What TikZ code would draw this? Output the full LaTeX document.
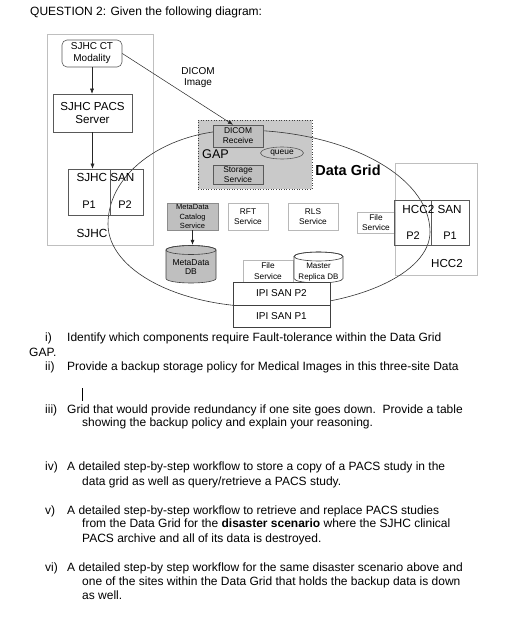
\documentclass[tikz,border=0pt]{standalone}
\usepackage{fontspec}
\setmainfont{Liberation Sans}
\usetikzlibrary{arrows.meta,calc,shapes.geometric}
\definecolor{sitegray}{gray}{0.75}
\definecolor{lightgray2}{gray}{0.72}
\definecolor{boxgray}{gray}{0.35}
\definecolor{darkgray2}{gray}{0.25}
\definecolor{gapfill}{gray}{0.79}
\definecolor{boxfill}{gray}{0.75}
\newcommand\myfs[2]{\fontsize{#1}{#2}\selectfont}
\tikzset{
  site/.style={draw=sitegray, line width=0.6pt, inner sep=0pt},
  darkbox/.style={draw=boxgray, line width=0.6pt, fill=white, inner sep=0pt, align=center},
  lightbox/.style={draw=lightgray2, line width=0.6pt, fill=white, inner sep=0pt, align=center},
  graybox/.style={draw=boxgray, line width=0.6pt, fill=boxfill, inner sep=0pt, align=center},
  sanbox/.style={draw=boxgray, line width=0.6pt, inner sep=0pt},
  gapbox/.style={draw=darkgray2, dotted, line width=0.6pt, fill=gapfill, inner sep=0pt},
  lbl/.style={inner sep=0pt, align=center},
  qt/.style={anchor=base west, inner sep=0pt, font=\myfs{12}{14}},
  arr/.style={-{Latex[length=5pt,width=4pt]}, line width=0.5pt, draw=black!85},
  gridline/.style={draw=black!80, line width=0.6pt},
}
\begin{document}
\begin{tikzpicture}[x=1pt,y=-1pt]
\useasboundingbox (0,0) rectangle (531,620);
\fill[white] (0,0) rectangle (531,620);

% title
\node[qt] (title) at (30,16) {QUESTION 2: Given the following diagram:};

% site boxes
\node[site, minimum width=106pt, minimum height=211pt] (sjhcsite) at (100,139.5) {};
\node[site, minimum width=82pt, minimum height=112pt] (hccsite) at (436,219) {};

% GAP box
\node[gapbox, minimum width=114pt, minimum height=69pt] (gap) at (255,154.5) {};

% Data Grid outline
\draw[gridline] (240,130) .. controls (345,130) and (430,176) .. (430,232)
  .. controls (430,273.4) and (356,307) .. (265,307)
  .. controls (178,307) and (108,270) .. (108,224)
  .. controls (108,172) and (167,130) .. cycle;

% SJHC site
\node[darkbox, rounded corners=5pt, minimum width=60pt, minimum height=27pt, font=\myfs{10}{12}] (ct) at (92,53.5) {SJHC CT\\Modality};
\node[darkbox, minimum width=79pt, minimum height=38pt, font=\myfs{11.6}{13.5}] (pacs) at (92.5,113) {SJHC PACS\\Server};
\node[sanbox, minimum width=42pt, minimum height=46pt] (sjhcp1) at (89,192) {};
\node[sanbox, minimum width=33pt, minimum height=46pt] (sjhcp2) at (126.5,192) {};
\node[lbl, font=\myfs{11.7}{14}] (sjhcsanlbl) at (105.5,177.5) {SJHC SAN};
\node[lbl, font=\myfs{11}{13}] (sjhcp1lbl) at (89,205) {P1};
\node[lbl, font=\myfs{11}{13}] (sjhcp2lbl) at (125,205) {P2};
\node[lbl, font=\myfs{11.8}{14}] (sjhclbl) at (92,233) {SJHC};

\node[lbl, font=\myfs{10}{11.5}] (dicomimg) at (198,77.5) {DICOM\\Image};

% GAP contents
\node[graybox, minimum width=50pt, minimum height=22pt, font=\myfs{8.4}{10}] (dicomrx) at (238,136) {DICOM\\Receive};
\node[lbl, anchor=west, font=\myfs{12.6}{14}] (gaplbl) at (202,154.5) {GAP};
\node[ellipse, draw=boxgray, line width=0.6pt, inner sep=0pt, minimum width=43pt, minimum height=12pt, font=\myfs{8.4}{10}] (queue) at (282,153) {queue};
\node[graybox, minimum width=50pt, minimum height=19pt, font=\myfs{8.4}{9.8}] (storage) at (238,174.5) {Storage\\Service};

\node[lbl, font=\bfseries\myfs{14.5}{16}] (dglbl) at (348,170) {Data Grid};

% services
\node[graybox, draw=black!45, minimum width=51pt, minimum height=27pt, font=\myfs{7.5}{9.2}] (mdc) at (192.5,216.5) {MetaData\\Catalog\\Service};
\node[lightbox, minimum width=40pt, minimum height=27pt, font=\myfs{8.3}{10}] (rft) at (248,216.5) {RFT\\Service};
\node[lightbox, minimum width=50pt, minimum height=27pt, font=\myfs{8.3}{10}] (rls) at (313,216.5) {RLS\\Service};
\node[lightbox, minimum width=38pt, minimum height=21pt, font=\myfs{8.3}{9.5}] (fsright) at (376,222.5) {File\\Service};
\node[lightbox, minimum width=50pt, minimum height=22pt, font=\myfs{8.3}{10.5}] (fsmid) at (268,271) {File\\Service};

% MetaData DB cylinder
\node[inner sep=0pt, minimum width=50pt, minimum height=38pt] (mddb) at (191,264) {};
\draw[fill=boxfill, draw=darkgray2, line width=0.6pt] (166,250) -- (166,278.5)
  arc[start angle=180, end angle=360, x radius=25pt, y radius=4.5pt] -- (216,250)
  arc[start angle=0, end angle=180, x radius=25pt, y radius=4.5pt] -- cycle;
\draw[draw=darkgray2, line width=0.6pt] (191,250) ellipse [x radius=25pt, y radius=4.5pt];
\node[lbl, font=\myfs{8.5}{9.5}] (mddbtxt) at (191,267) {MetaData\\DB};

% Master Replica DB cylinder
\node[inner sep=0pt, minimum width=49pt, minimum height=31pt] (mrdb) at (318.5,267.5) {};
\draw[fill=white, draw=darkgray2, line width=0.6pt] (294,256.5) -- (294,278.5)
  arc[start angle=180, end angle=360, x radius=24.5pt, y radius=4.5pt] -- (343,256.5)
  arc[start angle=0, end angle=180, x radius=24.5pt, y radius=4.5pt] -- cycle;
\draw[draw=darkgray2, line width=0.6pt] (318.5,256.5) ellipse [x radius=24.5pt, y radius=4.5pt];
\node[lbl, font=\myfs{8}{10.5}] (mrdbtxt) at (318.5,272) {Master\\Replica DB};

% IPI SAN
\node[darkbox, draw=darkgray2, minimum width=97pt, minimum height=23pt, font=\myfs{10}{12}] (ipip2) at (281.5,293.5) {IPI SAN P2};
\node[darkbox, draw=darkgray2, minimum width=97pt, minimum height=22pt, font=\myfs{10}{12}] (ipip1) at (281.5,316) {IPI SAN P1};

% HCC2 site
\node[sanbox, minimum width=37pt, minimum height=45pt] (hccp2) at (412.5,222.5) {};
\node[sanbox, minimum width=38pt, minimum height=45pt] (hccp1) at (450,222.5) {};
\node[lbl, font=\myfs{11.7}{14}] (hccsanlbl) at (432,209) {HCC2 SAN};
\node[lbl, font=\myfs{11}{13}] (hccp2lbl) at (413,236) {P2};
\node[lbl, font=\myfs{11}{13}] (hccp1lbl) at (450,236) {P1};
\node[lbl, font=\myfs{11.6}{14}] (hcclbl) at (447,264) {HCC2};

% connectors
\draw[arr] (ct.south) -- (ct.south |- pacs.north);
\draw[arr] (pacs.south) -- (pacs.south |- sjhcp1.north);
\draw[arr] (ct.east) -- ($(dicomrx.north)+(-5,0)$);
\draw[arr] (mdc.south) -- (mdc.south |- mddb.north);

% questions
\node[qt] (q1n) at (45,341) {i)};
\node[qt] (q1a) at (67,341) {Identify which components require Fault-tolerance within the Data Grid};
\node[qt] (q1b) at (29,356) {GAP.};
\node[qt] (q2n) at (45,370) {ii)};
\node[qt] (q2a) at (67,370) {Provide a backup storage policy for Medical Images in this three-site Data};
\coordinate (cur1) at (82,388);
\coordinate (cur2) at (82,401);
\draw[line width=0.8pt] (cur1) -- (cur2);
\node[qt] (q3n) at (45,413.3) {iii)};
\node[qt] (q3a) at (67,413.3) {Grid that would provide redundancy if one site goes down.\ \ Provide a table};
\node[qt] (q3b) at (82,426.7) {showing the backup policy and explain your reasoning.};
\node[qt] (q4n) at (45,470) {iv)};
\node[qt] (q4a) at (67,470) {A detailed step-by-step workflow to store a copy of a PACS study in the};
\node[qt] (q4b) at (82,485) {data grid as well as query/retrieve a PACS study.};
\node[qt] (q5n) at (45,514) {v)};
\node[qt] (q5a) at (67,514) {A detailed step-by-step workflow to retrieve and replace PACS studies};
\node[qt] (q5b) at (82,527.3) {from the Data Grid for the \textbf{disaster scenario} where the SJHC clinical};
\node[qt] (q5c) at (82,542.3) {PACS archive and all of its data is destroyed.};
\node[qt] (q6n) at (45,571) {vi)};
\node[qt] (q6a) at (67,571) {A detailed step-by step workflow for the same disaster scenario above and};
\node[qt] (q6b) at (82,585) {one of the sites within the Data Grid that holds the backup data is down};
\node[qt] (q6c) at (82,599.3) {as well.};
\end{tikzpicture}
\end{document}
